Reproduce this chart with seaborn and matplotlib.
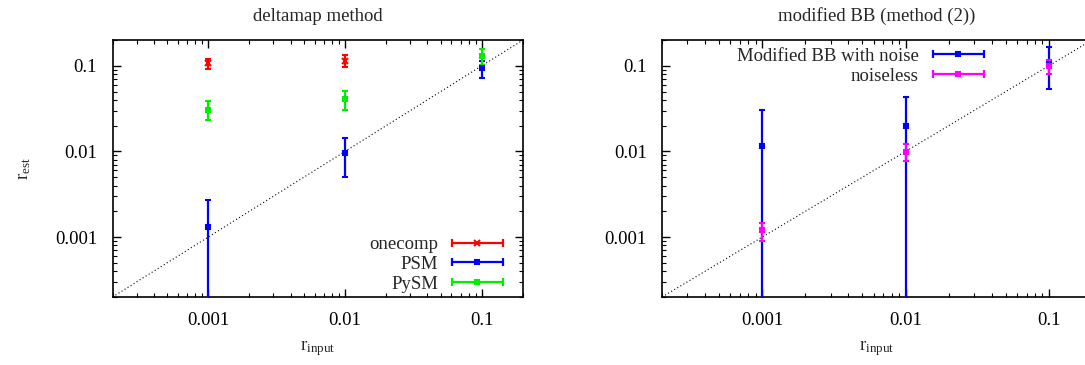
import numpy as np
import pandas as pd
import seaborn as sns
import matplotlib
matplotlib.use("Agg")
import matplotlib.pyplot as plt
from matplotlib.lines import Line2D
from matplotlib.legend_handler import HandlerLine2D
from matplotlib.ticker import FixedLocator, FixedFormatter, LogLocator, NullFormatter

# r_input values (same for every series)
r_input = [0.001, 0.01, 0.1]

# left panel: deltamap method
onecomp_val = [0.107, 0.115, None]
onecomp_lo = [0.0915, 0.098, None]
onecomp_hi = [0.121, 0.132, None]

psm_val = [0.0013, 0.0095, 0.094]
psm_lo = [1e-5, 0.0051, 0.0717]
psm_hi = [0.0027, 0.0143, 0.115]

pysm_val = [0.0305, 0.0407, 0.131]
pysm_lo = [0.0233, 0.0305, 0.103]
pysm_hi = [0.0383, 0.051, 0.158]

# right panel: modified BB (method (2))
mbb_noise_val = [0.0116, 0.0199, 0.106]
mbb_noise_lo = [1e-5, 1e-5, 0.0533]
mbb_noise_hi = [0.0305, 0.0437, 0.1655]

noiseless_val = [0.00121, 0.00996, 0.1]
noiseless_lo = [0.000906, 0.00781, 0.0799]
noiseless_hi = [0.00147, 0.0121, 0.1154]

ticks = [0.001, 0.01, 0.1]
tick_labels = ["0.001", "0.01", "0.1"]
diag = [2e-4, 0.2]

sns.set_theme(style="ticks")
plt.rcParams["font.family"] = ["Liberation Serif", "DejaVu Serif"]
plt.rcParams["mathtext.fontset"] = "custom"
plt.rcParams["mathtext.rm"] = "Liberation Serif"
plt.rcParams["mathtext.it"] = "Liberation Serif:italic"

FS = 13.5

fig = plt.figure(figsize=(10.85, 3.65), dpi=100)
ax1 = fig.add_axes([112.5 / 1085, 68 / 365, 410.5 / 1085, 257 / 365])
ax2 = fig.add_axes([662 / 1085, 68 / 365, 430 / 1085, 257 / 365])


def draw_series(ax, vals, lo, hi, color, marker, ms, label):
    x = [xi for xi, v in zip(r_input, vals) if v is not None]
    y = [v for v in vals if v is not None]
    ylo = [v - l for v, l in zip(vals, lo) if v is not None]
    yhi = [h - v for v, h in zip(vals, hi) if v is not None]
    ax.errorbar(x, y, yerr=[ylo, yhi], fmt=marker, color=color, ms=ms,
                mew=1.5, elinewidth=1.6, capsize=2.5, capthick=1.6,
                label=label, zorder=3)
    cap = Line2D([], [], color=color, lw=1.6, marker="|", ms=6, mew=1.6)
    mid = Line2D([], [], color=color, ls="none", marker=marker, ms=ms, mew=1.5)
    return (cap, mid)


def style_axes(ax, title):
    df = pd.DataFrame({"x": diag, "y": diag})
    sns.lineplot(data=df, x="x", y="y", ax=ax, color="black", lw=0.8,
                 linestyle=(0, (1, 2.2)), zorder=1)
    ax.set_xscale("log")
    ax.set_yscale("log")
    ax.set_xlim(2e-4, 0.2)
    ax.set_ylim(2e-4, 0.2)
    for axis in (ax.xaxis, ax.yaxis):
        axis.set_major_locator(FixedLocator(ticks))
        axis.set_major_formatter(FixedFormatter(tick_labels))
        axis.set_minor_locator(LogLocator(base=10, subs=np.arange(2, 10)))
        axis.set_minor_formatter(NullFormatter())
    ax.tick_params(which="both", direction="in", top=True, right=True,
                   labelsize=FS, colors="black")
    ax.tick_params(which="major", length=6, width=1, pad=11)
    ax.tick_params(which="minor", length=3, width=0.8)
    for s in ax.spines.values():
        s.set_linewidth(1.2)
        s.set_color("black")
    ax.set_title(title, fontsize=FS, pad=14)
    ax.set_xlabel(r"$\mathrm{r}_{\mathrm{input}}$", fontsize=FS, labelpad=7)
    ax.set_ylabel("")


# left panel
h1 = draw_series(ax1, onecomp_val, onecomp_lo, onecomp_hi, "#ff0000", "x", 4, "onecomp")
h2 = draw_series(ax1, psm_val, psm_lo, psm_hi, "#0000ff", "s", 2.5, "PSM")
h3 = draw_series(ax1, pysm_val, pysm_lo, pysm_hi, "#00ee00", "s", 2.5, "PySM")
style_axes(ax1, "deltamap method")
ax1.set_ylabel(r"$\mathrm{r}_{\mathrm{est}}$", fontsize=FS, labelpad=16)

hm = {}
for h in (h1, h2, h3):
    hm[h[0]] = HandlerLine2D(numpoints=2)
ax1.legend([h1, h2, h3], ["onecomp", "PSM", "PySM"], loc="lower right",
           bbox_to_anchor=(1.005, -0.05), markerfirst=False, frameon=False,
           fontsize=FS, handlelength=3.3, handletextpad=0.45, labelspacing=0.15,
           handler_map=hm)

# right panel
g1 = draw_series(ax2, mbb_noise_val, mbb_noise_lo, mbb_noise_hi, "#0000ff", "s", 2.5,
                 "Modified BB with noise")
g2 = draw_series(ax2, noiseless_val, noiseless_lo, noiseless_hi, "#ff00ff", "s", 2.5,
                 "noiseless")
style_axes(ax2, "modified BB (method (2))")
ax2.tick_params(which="both", right=False)

hm2 = {g1[0]: HandlerLine2D(numpoints=2), g2[0]: HandlerLine2D(numpoints=2)}
ax2.legend([g1, g2], ["Modified BB with noise", "noiseless"], loc="upper right",
           bbox_to_anchor=(0.80, 1.035), markerfirst=False, frameon=False,
           fontsize=FS, handlelength=3.3, handletextpad=0.45, labelspacing=0.15,
           handler_map=hm2)

fig.savefig("out.png", dpi=100)
plt.close(fig)
